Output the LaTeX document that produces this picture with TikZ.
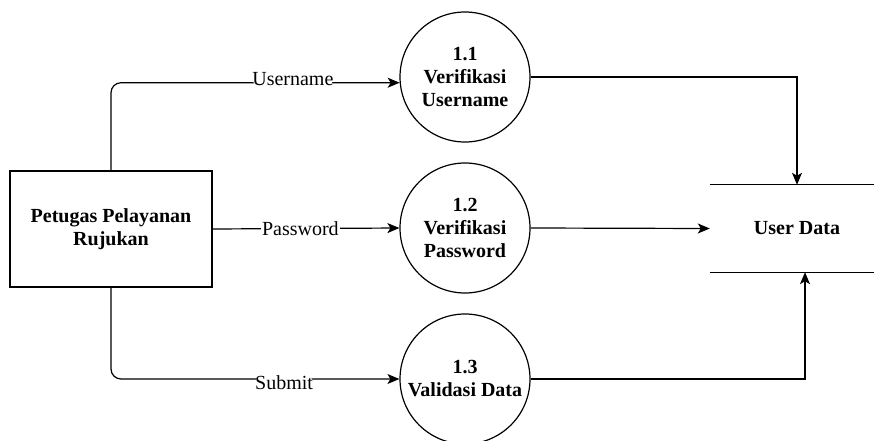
\documentclass[tikz,border=0pt]{standalone}
\usepackage{fontspec}
\setmainfont{Liberation Serif}
\usetikzlibrary{arrows.meta}
\begin{document}
\begin{tikzpicture}[x=1pt,y=-1pt,
  every node/.style={font=\fontsize{20}{23}\selectfont, inner sep=0pt},
  entity/.style={draw, line width=1.2pt, minimum width=202pt, minimum height=116pt, align=center, font=\fontsize{20}{23}\selectfont\bfseries},
  proc/.style={draw, circle, line width=1.2pt, minimum size=130pt, align=center, font=\fontsize{20}{23}\selectfont\bfseries},
  storebox/.style={minimum width=174pt, minimum height=87pt, align=center, font=\fontsize{20}{23}\selectfont\bfseries},
  flow/.style={line width=1.2pt, -{Stealth[length=12pt,width=10pt,inset=3pt]}},
  lbl/.style={fill=white, inner sep=1pt}]
\useasboundingbox[fill=white] (0,0) rectangle (874,441);
\node[entity] (ext) at (111,229) {Petugas Pelayanan\\Rujukan};
\node[proc] (p1) at (465,77) {1.1\\Verifikasi\\Username};
\node[proc] (p2) at (465,228) {1.2\\Verifikasi\\Password};
\node[proc] (p3) at (465,379) {1.3\\Validasi Data};
\node[storebox] (store) at (797,228.5) {User Data};
\draw[line width=1.2pt] (store.north west) -- (store.north east);
\draw[line width=1.2pt] (store.south west) -- (store.south east);
\draw[flow, rounded corners=10pt] (ext.north) |- (p1.185) node[lbl, pos=0.815, yshift=4pt] (l1) {Username};
\draw[flow] (ext.east) -- (p2.west) node[lbl, pos=0.47] (l2) {Password};
\draw[flow, rounded corners=10pt] (ext.south) |- (p3.west) node[lbl, pos=0.80, yshift=-4pt] (l3) {Submit};
\draw[flow] (p1.east) -| (store.north);
\draw[flow] (p2.east) -- (store.west);
\draw[flow] (p3.east) -| ([xshift=8pt]store.south);
\end{tikzpicture}
\end{document}
